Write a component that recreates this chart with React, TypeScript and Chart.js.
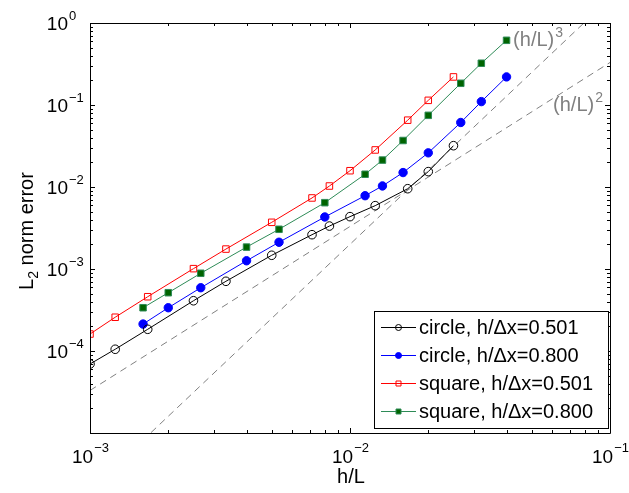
import React, { useEffect, useRef } from 'react';
import { Chart, registerables } from 'chart.js';

Chart.register(...registerables);

// h/L for h/dx = 0.501 runs
const hL501 = [0.001, 0.00125, 0.001667, 0.0025, 0.003333, 0.005, 0.007143, 0.008333, 0.01, 0.0125, 0.01667, 0.02, 0.025];
// h/L for h/dx = 0.800 runs
const hL800 = [0.0016, 0.002, 0.002667, 0.004, 0.005333, 0.008, 0.01143, 0.01333, 0.016, 0.02, 0.02667, 0.032, 0.04];

const errCircle501 = [6.94e-5, 1.05e-4, 1.84e-4, 4.1e-4, 7.08e-4, 1.47e-3, 2.62e-3, 3.34e-3, 4.35e-3, 5.92e-3, 9.53e-3, 0.0154, 0.0319];
const errCircle800 = [2.13e-4, 3.37e-4, 5.91e-4, 1.26e-3, 2.12e-3, 4.31e-3, 7.83e-3, 0.0103, 0.015, 0.0261, 0.0612, 0.11, 0.22];
const errSquare501 = [1.61e-4, 2.58e-4, 4.59e-4, 1.01e-3, 1.75e-3, 3.71e-3, 7.35e-3, 0.01028, 0.0158, 0.0283, 0.0653, 0.114, 0.22];
const errSquare800 = [3.37e-4, 5.14e-4, 8.87e-4, 1.85e-3, 3.05e-3, 6.44e-3, 0.0143, 0.0213, 0.0369, 0.0748, 0.184, 0.323, 0.615];

const seriesLabels = ['circle, h/\u0394x=0.501', 'circle, h/\u0394x=0.800', 'square, h/\u0394x=0.501', 'square, h/\u0394x=0.800'];

// reference slopes
const refX = [0.001, 0.1];
const refSquareY = [3.3e-5, 0.33];
const refCubeY = [2e-6, 2];
const refLabelBase = ['(h/L)', '(h/L)'];
const refLabelExp = ['3', '2'];
const refLabelX = [0.0424, 0.0604];
const refLabelY = [0.52, 0.085];

const xDecades = [-3, -2, -1];
const yDecades = [-5, -4, -3, -2, -1, 0];

const FONT = '"Liberation Sans", Arial, Helvetica, sans-serif';
const MINUS = '\u2212';

const pts = (xs: number[], ys: number[]) => xs.map((x, i) => ({ x, y: ys[i] }));

const decoPlugin = {
  id: 'deco',
  afterDraw(chart: any) {
    const ctx: CanvasRenderingContext2D = chart.ctx;
    const ca = chart.chartArea;
    const xs = chart.scales.x;
    const ys = chart.scales.y;
    const L = Math.round(ca.left), R = Math.round(ca.right), T = Math.round(ca.top), B = Math.round(ca.bottom);
    ctx.save();
    // frame
    ctx.strokeStyle = '#000';
    ctx.lineWidth = 1;
    ctx.beginPath();
    ctx.rect(L + 0.5, T + 0.5, R - L, B - T);
    ctx.stroke();

    // ticks
    const major = 5, minor = 3;
    ctx.beginPath();
    for (let d = -3; d < -1 + 1; d++) {
      for (let m = 1; m <= 9; m++) {
        const v = m * Math.pow(10, d);
        if (v > 0.1 + 1e-12) continue;
        const px = Math.round(xs.getPixelForValue(v)) + 0.5;
        const len = m === 1 ? major : minor;
        ctx.moveTo(px, B); ctx.lineTo(px, B - len);
        ctx.moveTo(px, T); ctx.lineTo(px, T + len);
      }
    }
    for (let d = -5; d <= 0; d++) {
      for (let m = 1; m <= 9; m++) {
        const v = m * Math.pow(10, d);
        if (v > 1 + 1e-12) continue;
        const py = Math.round(ys.getPixelForValue(v)) + 0.5;
        const len = m === 1 ? major : minor;
        ctx.moveTo(L, py); ctx.lineTo(L + len, py);
        ctx.moveTo(R, py); ctx.lineTo(R - len, py);
      }
    }
    ctx.stroke();

    // tick labels
    const baseFont = `19px ${FONT}`;
    const supFont = `13px ${FONT}`;
    ctx.fillStyle = '#000';
    ctx.textBaseline = 'alphabetic';
    ctx.textAlign = 'left';
    xDecades.forEach((d) => {
      const px = xs.getPixelForValue(Math.pow(10, d));
      const expStr = d < 0 ? MINUS + Math.abs(d) : String(d);
      ctx.font = baseFont;
      const wb = ctx.measureText('10').width;
      ctx.font = supFont;
      const we = ctx.measureText(expStr).width;
      const x0 = px - (wb + we) / 2;
      const by = B + 30;
      ctx.font = baseFont;
      ctx.fillText('10', x0, by);
      ctx.font = supFont;
      ctx.fillText(expStr, x0 + wb + 1, by - 11);
    });
    yDecades.forEach((d) => {
      if (d === -5) return;
      const py = ys.getPixelForValue(Math.pow(10, d));
      const expStr = d < 0 ? MINUS + Math.abs(d) : String(d);
      ctx.font = baseFont;
      const wb = ctx.measureText('10').width;
      const x1 = L - 22;
      ctx.fillText('10', x1 - wb, py + 7);
      ctx.font = supFont;
      ctx.fillText(expStr, x1 + 1, py - 3);
    });

    // x title
    ctx.font = `20px ${FONT}`;
    ctx.textAlign = 'center';
    ctx.fillText('h/L', (L + R) / 2 + 1, B + 50);

    // y title with subscript
    ctx.save();
    ctx.translate(33, (T + B) / 2 + 3);
    ctx.rotate(-Math.PI / 2);
    ctx.textAlign = 'left';
    const tf = `20px ${FONT}`;
    const sf = `14px ${FONT}`;
    ctx.font = tf;
    const wL = ctx.measureText('L').width;
    const wRest = ctx.measureText(' norm error').width;
    ctx.font = sf;
    const w2 = ctx.measureText('2').width;
    let cx = -(wL + w2 + wRest) / 2;
    ctx.font = tf;
    ctx.fillText('L', cx, 0);
    cx += wL;
    ctx.font = sf;
    ctx.fillText('2', cx, 5);
    cx += w2;
    ctx.font = tf;
    ctx.fillText(' norm error', cx, 0);
    ctx.restore();

    // reference line labels
    ctx.fillStyle = '#808080';
    ctx.textAlign = 'left';
    refLabelBase.forEach((s, i) => {
      const px = xs.getPixelForValue(refLabelX[i]);
      const py = ys.getPixelForValue(refLabelY[i]);
      ctx.font = `20px ${FONT}`;
      ctx.fillText(s, px, py);
      const w = ctx.measureText(s).width;
      ctx.font = `14px ${FONT}`;
      ctx.fillText(refLabelExp[i], px + w + 1, py - 9);
    });

    // legend
    const lw = 234, lh = 117;
    const lx = R - 2 - lw, ly = B - 5 - lh;
    ctx.fillStyle = '#fff';
    ctx.fillRect(lx, ly, lw, lh);
    ctx.strokeStyle = '#000';
    ctx.lineWidth = 1;
    ctx.strokeRect(lx + 0.5, ly + 0.5, lw, lh);
    const dsets = chart.data.datasets.slice(0, 4);
    dsets.forEach((ds: any, i: number) => {
      const rowY = ly + 16 + i * 28;
      ctx.strokeStyle = ds.borderColor;
      ctx.lineWidth = 1;
      ctx.setLineDash([]);
      ctx.beginPath();
      ctx.moveTo(lx + 7, rowY + 0.5);
      ctx.lineTo(lx + 42, rowY + 0.5);
      ctx.stroke();
      const mx = lx + 24.5;
      ctx.fillStyle = ds.pointBackgroundColor;
      ctx.strokeStyle = ds.pointBorderColor;
      ctx.lineWidth = 1;
      const r = ds.legendMarker;
      ctx.beginPath();
      if (ds.pointStyle === 'circle') {
        ctx.arc(mx, rowY + 0.5, r, 0, Math.PI * 2);
      } else {
        ctx.rect(mx - r, rowY + 0.5 - r, 2 * r, 2 * r);
      }
      ctx.fill();
      ctx.stroke();
      ctx.fillStyle = '#000';
      ctx.font = `20px ${FONT}`;
      ctx.textAlign = 'left';
      ctx.fillText(seriesLabels[i], lx + 45, rowY + 7);
    });
    ctx.restore();
  },
};

export default function App() {
  const ref = useRef<HTMLCanvasElement>(null);
  useEffect(() => {
    document.body.style.margin = '0';
    const canvas = ref.current!;
    const chart = new Chart(canvas, {
      type: 'line',
      data: {
        datasets: [
          {
            label: seriesLabels[0],
            data: pts(hL501, errCircle501),
            borderColor: '#000000',
            borderWidth: 1,
            pointStyle: 'circle',
            pointRadius: 4.3,
            pointBorderWidth: 1,
            pointBorderColor: '#000000',
            pointBackgroundColor: 'rgba(0,0,0,0)',
            legendMarker: 3,
            order: 1,
          } as any,
          {
            label: seriesLabels[1],
            data: pts(hL800, errCircle800),
            borderColor: '#0000ff',
            borderWidth: 1,
            pointStyle: 'circle',
            pointRadius: 4.2,
            pointBorderWidth: 1,
            pointBorderColor: '#0000ff',
            pointBackgroundColor: '#0000ff',
            legendMarker: 3,
            order: 1,
          } as any,
          {
            label: seriesLabels[2],
            data: pts(hL501, errSquare501),
            borderColor: '#ff0000',
            borderWidth: 1,
            pointStyle: 'rect',
            pointRadius: 4.6,
            pointBorderWidth: 1,
            pointBorderColor: '#ff0000',
            pointBackgroundColor: 'rgba(0,0,0,0)',
            legendMarker: 2.5,
            order: 1,
          } as any,
          {
            label: seriesLabels[3],
            data: pts(hL800, errSquare800),
            borderColor: '#2e8b57',
            borderWidth: 1,
            pointStyle: 'rect',
            pointRadius: 4.6,
            pointBorderWidth: 1,
            pointBorderColor: '#2e8b57',
            pointBackgroundColor: '#006400',
            legendMarker: 2.5,
            order: 1,
          } as any,
          {
            label: 'cube',
            data: pts(refX, refCubeY),
            borderColor: '#808080',
            borderWidth: 1,
            borderDash: [7, 5],
            pointRadius: 0,
            order: 2,
          },
          {
            label: 'square',
            data: pts(refX, refSquareY),
            borderColor: '#808080',
            borderWidth: 1,
            borderDash: [7, 5],
            pointRadius: 0,
            order: 2,
          },
        ],
      },
      options: {
        responsive: false,
        animation: false,
        devicePixelRatio: 1,
        layout: { padding: { left: 90, top: 23, right: 19, bottom: 60 } },
        plugins: { legend: { display: false }, tooltip: { enabled: false } },
        events: [],
        scales: {
          x: { type: 'logarithmic', min: 0.001, max: 0.1, display: false },
          y: { type: 'logarithmic', min: 1e-5, max: 1, display: false },
        },
      },
      plugins: [decoPlugin],
    });
    return () => chart.destroy();
  }, []);
  return (
    <div style={{ position: 'absolute', left: 0, top: 0, width: 629, height: 493, background: '#fff' }}>
      <canvas ref={ref} width={629} height={493} style={{ display: 'block' }} />
    </div>
  );
}
